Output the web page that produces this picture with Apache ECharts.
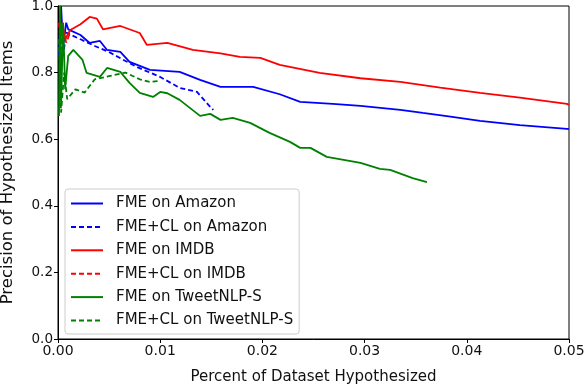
<!DOCTYPE html>
<html lang="en">
  <head>
    <meta charset="UTF-8">
    <title>Precision of Hypothesized Items</title>
    <script src="https://cdn.jsdelivr.net/npm/echarts@6.0.0/dist/echarts.min.js"></script>
    <style>
      html, body { margin: 0; padding: 0; background: #fff; }
    </style>
  </head>
  <body>
    <div id="main" style="width: 584px;height:386px;"></div>
    <script type="text/javascript">
      // Values: [percent of dataset, precision]
      const fmeAmazon = [
        [0.0001, 0.85], [0.0003, 1.0], [0.0005, 0.88], [0.0008, 0.95], [0.0010, 0.93],
        [0.0022, 0.913], [0.0031, 0.889], [0.0041, 0.895], [0.0048, 0.868], [0.0061, 0.862],
        [0.0070, 0.832], [0.0090, 0.808], [0.0119, 0.802], [0.0139, 0.778], [0.0159, 0.757],
        [0.0191, 0.757], [0.0217, 0.735], [0.0237, 0.712], [0.0269, 0.706], [0.0296, 0.700],
        [0.0335, 0.688], [0.0357, 0.679], [0.0384, 0.668], [0.0413, 0.655], [0.0452, 0.642],
        [0.0498, 0.631], [0.0500, 0.630]
      ];
      const fmeClAmazon = [
        [0.0002, 0.95], [0.0005, 0.85], [0.0008, 0.92], [0.0022, 0.90], [0.0036, 0.88],
        [0.0051, 0.86], [0.0066, 0.835], [0.0077, 0.817], [0.0100, 0.787], [0.0119, 0.754],
        [0.0136, 0.742], [0.0149, 0.697], [0.0152, 0.688]
      ];
      const fmeImdb = [
        [0.0002, 0.88], [0.0004, 0.95], [0.0007, 0.90], [0.0012, 0.928], [0.0022, 0.945],
        [0.0031, 0.967], [0.0038, 0.962], [0.0044, 0.93], [0.0061, 0.94], [0.0080, 0.919],
        [0.0087, 0.883], [0.0107, 0.889], [0.0132, 0.868], [0.0159, 0.858], [0.0178, 0.847],
        [0.0198, 0.844], [0.0217, 0.823], [0.0256, 0.799], [0.0296, 0.783], [0.0335, 0.772],
        [0.0374, 0.755], [0.0413, 0.739], [0.0452, 0.725], [0.0498, 0.706], [0.0500, 0.703]
      ];
      const fmeClImdb = [
        [0.0001, 0.95], [0.0003, 0.87], [0.0005, 0.93], [0.0008, 0.89], [0.0012, 0.92]
      ];
      const fmeTweet = [
        [0.0001, 0.67], [0.0002, 1.0], [0.0003, 0.70], [0.0005, 0.95], [0.0007, 0.75],
        [0.0010, 0.85], [0.0015, 0.868], [0.0024, 0.838], [0.0028, 0.799], [0.0041, 0.787],
        [0.0048, 0.814], [0.0061, 0.802], [0.0070, 0.769], [0.0080, 0.739], [0.0093, 0.727],
        [0.0100, 0.742], [0.0107, 0.738], [0.0119, 0.718], [0.0139, 0.670], [0.0149, 0.676],
        [0.0159, 0.658], [0.0171, 0.664], [0.0188, 0.649], [0.0207, 0.619], [0.0227, 0.592],
        [0.0237, 0.574], [0.0247, 0.574], [0.0263, 0.547], [0.0296, 0.529], [0.0315, 0.511],
        [0.0325, 0.508], [0.0347, 0.483], [0.0361, 0.471]
      ];
      const fmeClTweet = [
        [0.0001, 0.90], [0.0003, 0.68], [0.0006, 0.80], [0.0009, 0.72], [0.0017, 0.75],
        [0.0026, 0.74], [0.0036, 0.78], [0.0051, 0.79], [0.0066, 0.80], [0.0080, 0.78],
        [0.0090, 0.772], [0.0100, 0.775]
      ];

      const seriesNames = [
        'FME on Amazon', 'FME+CL on Amazon', 'FME on IMDB',
        'FME+CL on IMDB', 'FME on TweetNLP-S', 'FME+CL on TweetNLP-S'
      ];
      const seriesData = [fmeAmazon, fmeClAmazon, fmeImdb, fmeClImdb, fmeTweet, fmeClTweet];
      const seriesColors = ['#0000ff', '#0000ff', '#ff0000', '#ff0000', '#008000', '#008000'];
      const seriesDashed = [false, true, false, true, false, true];

      let myChart = echarts.init(document.getElementById('main'));

      const font = 'DejaVu Sans';

      let options = {
        animation: false,
        textStyle: { fontFamily: font },
        grid: {
          left: 58, right: 15, top: 6, bottom: 47,
          outerBoundsMode: 'none',
          containLabel: false,
          show: true, borderColor: '#000', borderWidth: 1
        },
        legend: {
          orient: 'vertical',
          left: 65, top: 189,
          data: seriesNames,
          itemWidth: 32, itemHeight: 14, itemGap: 8.4,
          padding: [7, 6, 6, 5],
          backgroundColor: 'rgba(255,255,255,0.8)',
          borderColor: '#cccccc', borderWidth: 1, borderRadius: 3,
          itemStyle: { opacity: 0 },
          textStyle: { fontFamily: font, fontSize: 15, lineHeight: 14, color: '#111', padding: [0, 0, 0, 8] }
        },
        xAxis: {
          type: 'value',
          min: 0, max: 0.05, interval: 0.01,
          name: 'Percent of Dataset Hypothesized',
          nameLocation: 'middle', nameGap: 31,
          nameTextStyle: { fontFamily: font, fontSize: 15, color: '#111' },
          axisLine: { lineStyle: { color: '#000' } },
          axisTick: { length: 4, lineStyle: { color: '#000' } },
          axisLabel: { fontSize: 14, color: '#111', margin: 5, formatter: v => v.toFixed(2) },
          splitLine: { show: false }
        },
        yAxis: {
          type: 'value',
          min: 0, max: 1, interval: 0.2,
          name: 'Precision of Hypothesized Items',
          nameLocation: 'middle', nameGap: 42,
          nameTextStyle: { fontFamily: font, fontSize: 16.5, color: '#111' },
          axisLine: { lineStyle: { color: '#000' } },
          axisTick: { length: 4, lineStyle: { color: '#000' } },
          axisLabel: { fontSize: 13.5, color: '#111', margin: 5, formatter: v => v.toFixed(1) },
          splitLine: { show: false }
        },
        series: seriesNames.map((name, i) => ({
          name: name,
          type: 'line',
          data: seriesData[i],
          symbol: 'none',
          color: seriesColors[i],
          clip: true,
          lineStyle: {
            color: seriesColors[i],
            width: 1.8,
            type: seriesDashed[i] ? [5, 3] : 'solid'
          }
        }))
      };

      myChart.setOption(options);
    </script>
  </body>
</html>
